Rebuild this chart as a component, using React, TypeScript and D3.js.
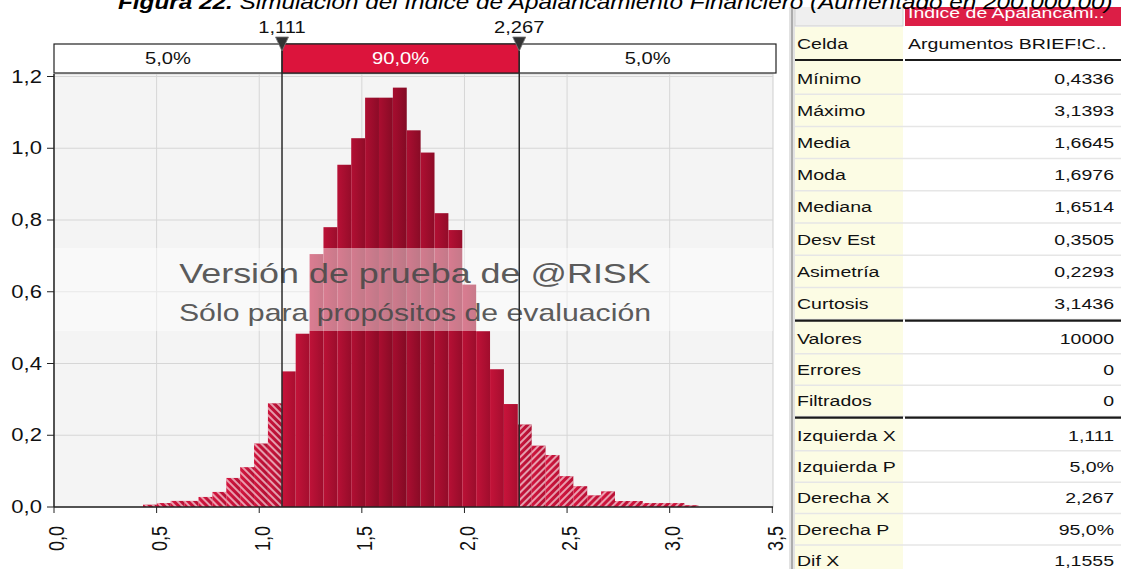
import React from "react";
import * as d3 from "d3";

// ---------- data ----------
const binStart = 0.4336;
const binEnd = 3.1393;
const binDensity = [
  0.0065, 0.011, 0.017, 0.017, 0.028, 0.042, 0.081, 0.111, 0.177, 0.289,
  0.378, 0.483, 0.705, 0.78, 0.954, 1.028, 1.141, 1.141, 1.169, 1.05,
  0.988, 0.819, 0.772, 0.62, 0.49, 0.384, 0.287, 0.23, 0.171, 0.145,
  0.086, 0.058, 0.0325, 0.0436, 0.0167, 0.0167, 0.011, 0.011, 0.011, 0.005,
];
const leftDelim = 1.111;
const rightDelim = 2.267;
const delimLabels = ["1,111", "2,267"];
const stripLabels = ["5,0%", "90,0%", "5,0%"];
const xTicks = [0, 0.5, 1, 1.5, 2, 2.5, 3, 3.5];
const xTickLabels = ["0,0", "0,5", "1,0", "1,5", "2,0", "2,5", "3,0", "3,5"];
const yTicks = [0, 0.2, 0.4, 0.6, 0.8, 1.0, 1.2];
const yTickLabels = ["0,0", "0,2", "0,4", "0,6", "0,8", "1,0", "1,2"];
const titleBold = "Figura 22.";
const titleRest = " Simulación del Índice de Apalancamiento Financiero (Aumentado en 200.000,00)";
const watermark1 = "Versión de prueba de @RISK";
const watermark2 = "Sólo para propósitos de evaluación";
const tableHeader = "Índice de Apalancami..";
const cellLabel = "Celda";
const cellValue = "Argumentos BRIEF!C..";
const statGroups = [
  {
    labels: ["Mínimo", "Máximo", "Media", "Moda", "Mediana", "Desv Est", "Asimetría", "Curtosis"],
    values: ["0,4336", "3,1393", "1,6645", "1,6976", "1,6514", "0,3505", "0,2293", "3,1436"],
  },
  { labels: ["Valores", "Errores", "Filtrados"], values: ["10000", "0", "0"] },
  {
    labels: ["Izquierda X", "Izquierda P", "Derecha X", "Derecha P", "Dif X"],
    values: ["1,111", "5,0%", "2,267", "95,0%", "1,1555"],
  },
];

// ---------- layout ----------
const W = 1121;
const H = 569;
const SX = 1.26;
const FONT = "'Liberation Sans', Arial, sans-serif";
const plotL = 54;
const plotR = 773;
const plotT = 74;
const plotB = 507;
const tableTop = 7;

function ST(props: any) {
  const { x, y, size, anchor = "start", fill = "#111", weight = "normal", rot = 0, baseline, opacity, children, fontStyle } = props;
  return (
    <text
      transform={`translate(${x},${y}) scale(${SX},1)${rot ? ` rotate(${rot})` : ""}`}
      fontSize={size}
      fontFamily={FONT}
      textAnchor={anchor}
      fill={fill}
      fontWeight={weight}
      fontStyle={fontStyle}
      dominantBaseline={baseline}
      opacity={opacity}
    >
      {children}
    </text>
  );
}

export default function App() {
  const x = d3.scaleLinear().domain([0, 3.5]).range([plotL, 772.3]);
  const y = d3.scaleLinear().domain([0, 1.2]).range([plotB, 76.5]);
  const bw = (binEnd - binStart) / binDensity.length;
  const d1 = x(leftDelim);
  const d2 = x(rightDelim);
  const mid = 1.68;

  const bins = binDensity.map((v, i) => {
    const a = binStart + i * bw;
    const b = a + bw;
    const c = (a + b) / 2;
    const t = Math.max(0, 1 - Math.abs(c - mid) / 0.75);
    const cl = d3.interpolateRgb("#d5163f", "#a60d2f")(t);
    const cr = d3.interpolateRgb("#b81035", "#830a24")(t);
    return { i, a, b, v, cl, cr };
  });

  const segs: any[] = [];
  bins.forEach((bn) => {
    const x0 = x(bn.a);
    const x1 = x(bn.b);
    const parts = [
      { s: x0, e: Math.min(x1, d1), kind: "L" },
      { s: Math.max(x0, d1), e: Math.min(x1, d2), kind: "M" },
      { s: Math.max(x0, d2), e: x1, kind: "R" },
    ];
    parts.forEach((p) => {
      if (p.e - p.s > 0.01) segs.push({ ...p, bn });
    });
  });

  // table layout
  const tL = 795;
  const tMid = 904;
  const tR = W;
  const rows: any[] = [];
  const thick: number[] = [60];
  let top = 62;
  statGroups.forEach((g, gi) => {
    const rh = gi === 0 ? 32.2 : 31.4;
    g.labels.forEach((lab, k) => {
      rows.push({ lab, val: g.values[k], top, h: rh });
      top += rh;
    });
    if (gi < statGroups.length - 1) {
      thick.push(top + 1);
      top += 2.8;
    }
  });

  return (
    <svg width={W} height={H} style={{ position: "absolute", left: 0, top: 0, background: "#fff" }}>
      <defs>
        {bins.map((bn) => (
          <linearGradient key={bn.i} id={`g${bn.i}`} x1="0" x2="1" y1="0" y2="0">
            <stop offset="0" stopColor={bn.cl} />
            <stop offset="1" stopColor={bn.cr} />
          </linearGradient>
        ))}
        <pattern id="hatchL" patternUnits="userSpaceOnUse" width="5" height="5" patternTransform="rotate(-45)">
          <line x1="1" y1="0" x2="1" y2="5" stroke="#fff" strokeWidth="1.3" opacity="0.9" />
        </pattern>
        <pattern id="hatchR" patternUnits="userSpaceOnUse" width="5" height="5" patternTransform="rotate(45)">
          <line x1="1" y1="0" x2="1" y2="5" stroke="#fff" strokeWidth="1.3" opacity="0.9" />
        </pattern>
        <clipPath id="tableClip">
          <rect x={780} y={tableTop} width={W - 780} height={H - tableTop} />
        </clipPath>
      </defs>

      {/* plot background */}
      <rect x={plotL} y={plotT} width={plotR - plotL} height={plotB - plotT} fill="#f4f4f4" stroke="#cfcfcf" />
      {xTicks.slice(1, -1).map((t) => (
        <line key={`vx${t}`} x1={x(t)} x2={x(t)} y1={plotT} y2={plotB} stroke="#d6d6d6" />
      ))}
      {yTicks.slice(1).map((t) => (
        <line key={`hy${t}`} x1={plotL} x2={plotR} y1={y(t)} y2={y(t)} stroke="#d6d6d6" />
      ))}

      {/* bars */}
      {segs.map((s, k) => (
        <g key={k}>
          <rect x={s.s} y={y(s.bn.v)} width={s.e - s.s} height={plotB - y(s.bn.v)} fill={`url(#g${s.bn.i})`} />
          {s.kind !== "M" && (
            <rect x={s.s} y={y(s.bn.v)} width={s.e - s.s} height={plotB - y(s.bn.v)} fill={s.kind === "L" ? "url(#hatchL)" : "url(#hatchR)"} />
          )}
        </g>
      ))}

      {/* watermark band */}
      <rect x={plotL} y={248} width={plotR - plotL} height={83} fill="#ffffff" opacity={0.45} />
      <ST x={415} y={283} size={28.5} anchor="middle" fill="#4a4a4a" opacity={0.9}>{watermark1}</ST>
      <ST x={415} y={321} size={24} anchor="middle" fill="#4a4a4a" opacity={0.9}>{watermark2}</ST>

      {/* axes */}
      <line x1={plotL} x2={plotL} y1={plotT} y2={plotB} stroke="#222" strokeWidth={1.5} />
      <line x1={plotL} x2={plotR} y1={plotB} y2={plotB} stroke="#222" strokeWidth={1.5} />
      {yTicks.map((t, i) => (
        <g key={`yt${t}`}>
          <line x1={47} x2={plotL} y1={y(t)} y2={y(t)} stroke="#222" />
          <ST x={42} y={y(t) + 6} size={17.5} anchor="end">{yTickLabels[i]}</ST>
        </g>
      ))}
      {xTicks.map((t, i) => (
        <g key={`xt${t}`}>
          <line x1={x(t)} x2={x(t)} y1={plotB} y2={513} stroke="#222" />
          <ST x={x(t) + 2} y={526} size={18} anchor="end" rot={-90} baseline="central">{xTickLabels[i]}</ST>
        </g>
      ))}

      {/* delimiter strip */}
      <rect x={plotL} y={44} width={776 - plotL} height={29} fill="#fff" stroke="#222" strokeWidth={1.2} />
      <rect x={d1} y={44} width={d2 - d1} height={29} fill="#dc143c" stroke="#222" strokeWidth={1.2} />
      <ST x={(plotL + d1) / 2} y={64} size={16} anchor="middle">{stripLabels[0]}</ST>
      <ST x={(d1 + d2) / 2} y={64} size={16} anchor="middle" fill="#fff">{stripLabels[1]}</ST>
      <ST x={(d2 + 776) / 2} y={64} size={16} anchor="middle">{stripLabels[2]}</ST>
      {[d1, d2].map((dx, i) => (
        <g key={`d${i}`}>
          <line x1={dx} x2={dx} y1={44} y2={plotB} stroke="#2a2a2a" strokeWidth={1.5} />
          <path d={`M${dx - 6.5},37 L${dx + 6.5},37 L${dx},51 Z`} fill="#333" stroke="#777" strokeWidth={0.8} />
          <ST x={dx} y={33} size={16} anchor="middle">{delimLabels[i]}</ST>
        </g>
      ))}

      {/* table */}
      <g clipPath="url(#tableClip)">
        <rect x={789} y={0} width={6} height={H} fill="#e2e2e2" />
        <line x1={792} x2={792} y1={0} y2={H} stroke="#9a9a9a" strokeWidth={1.5} />
        <rect x={tL} y={0} width={tMid - 1 - tL} height={26} fill="#efefef" stroke="#cfcfcf" />
        <rect x={tMid + 1} y={0} width={tR - tMid - 1} height={26} fill="#dc1e46" />
        <ST x={908} y={18} size={15.5} fill="#fff">{tableHeader}</ST>
        <rect x={tL} y={27} width={tMid - 1 - tL} height={H - 27} fill="#fcfce4" />
        <rect x={tMid + 1} y={27} width={tR - tMid - 1} height={H - 27} fill="#fff" />
        <ST x={797} y={49} size={15.5}>{cellLabel}</ST>
        <ST x={908} y={49} size={15.5}>{cellValue}</ST>
        {rows.map((r, k) => (
          <g key={`r${k}`}>
            <line x1={tL} x2={tR} y1={r.top + r.h} y2={r.top + r.h} stroke="#e6e6e6" strokeWidth={1.5} />
            <ST x={797} y={r.top + r.h / 2 + 5.5} size={15.5}>{r.lab}</ST>
            <ST x={1114} y={r.top + r.h / 2 + 5.5} size={15.5} anchor="end">{r.val}</ST>
          </g>
        ))}
        {thick.map((ty, k) => (
          <g key={`th${k}`}>
            <line x1={tL} x2={tMid - 1} y1={ty} y2={ty} stroke="#1a1a1a" strokeWidth={2.2} />
            <line x1={tMid + 1} x2={tR} y1={ty} y2={ty} stroke="#1a1a1a" strokeWidth={2.2} />
          </g>
        ))}
      </g>

      {/* title (drawn on top) */}
      <text transform={`translate(118,9) scale(${SX},1)`} fontSize={19.3} fontFamily={FONT} fontStyle="italic" fill="#000">
        <tspan fontWeight="bold">{titleBold}</tspan>
        <tspan>{titleRest}</tspan>
      </text>
    </svg>
  );
}
